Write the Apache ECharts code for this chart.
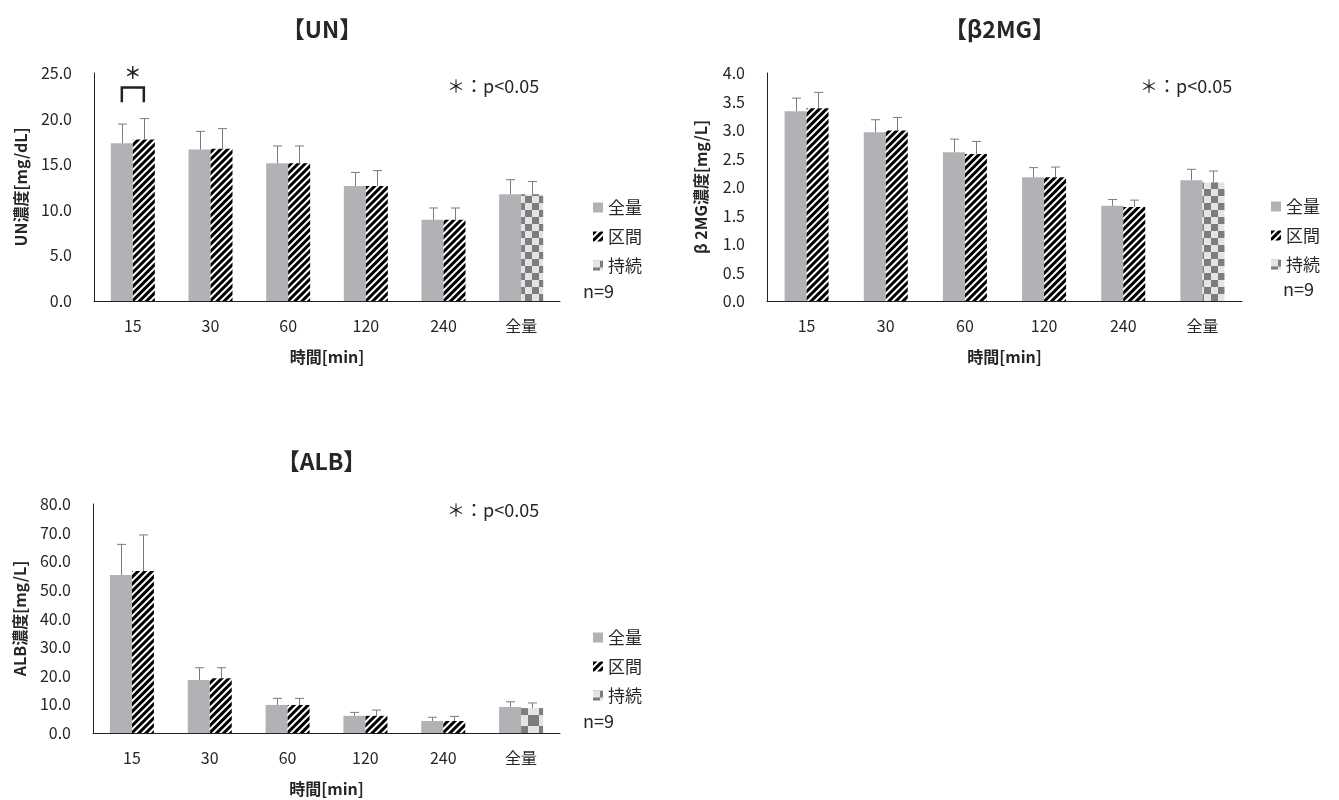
<!DOCTYPE html>
<html>
<head>
<meta charset="utf-8">
<script src="https://cdn.jsdelivr.net/npm/echarts@6/dist/echarts.min.js"></script>
<style>
  html, body { margin: 0; padding: 0; background: #fff; }
  #main { width: 1339px; height: 800px; }
</style>
</head>
<body>
<div id="main"></div>
<script>
// categories
const categories = ['15', '30', '60', '120', '240', '全量'];
const seriesNames = ['全量', '区間', '持続'];

// UN [mg/dL]
const unZenryo = [17.3, 16.6, 15.1, 12.6, 8.9, 11.7];
const unZenryoSD = [2.1, 2.0, 1.9, 1.5, 1.3, 1.6];
const unKukan = [17.7, 16.7, 15.1, 12.6, 8.9, null];
const unKukanSD = [2.3, 2.2, 1.9, 1.7, 1.3, null];
const unJizoku = [null, null, null, null, null, 11.7];
const unJizokuSD = [null, null, null, null, null, 1.4];

// β2MG [mg/L]
const b2Zenryo = [3.33, 2.96, 2.61, 2.17, 1.67, 2.12];
const b2ZenryoSD = [0.23, 0.22, 0.23, 0.17, 0.11, 0.19];
const b2Kukan = [3.38, 2.99, 2.58, 2.17, 1.65, null];
const b2KukanSD = [0.28, 0.23, 0.22, 0.18, 0.12, null];
const b2Jizoku = [null, null, null, null, null, 2.08];
const b2JizokuSD = [null, null, null, null, null, 0.20];

// ALB [mg/L]
const albZenryo = [55.2, 18.5, 9.8, 6.0, 4.2, 9.1];
const albZenryoSD = [10.7, 4.3, 2.3, 1.2, 1.3, 1.8];
const albKukan = [56.6, 19.1, 9.8, 6.0, 4.2, null];
const albKukanSD = [12.6, 3.7, 2.3, 2.0, 1.6, null];
const albJizoku = [null, null, null, null, null, 8.7];
const albJizokuSD = [null, null, null, null, null, 1.8];

// y ticks: min, max, interval
const unTicks = [0, 25, 5];
const b2Ticks = [0, 4, 0.5];
const albTicks = [0, 80, 10];

// significance bracket (UN, 15 min): [category, top, leg bottom, star]
const unSig = [[0, 23.4, 21.8, 25.0]];

const FONT = '"Noto Sans CJK JP", "Noto Sans", sans-serif';
const BAR_W = 22;
const GRAY = '#b1b2b5';
const TXT = '#262626';

const stripeDecal = {
  symbol: 'rect', symbolSize: 1, color: '#000',
  dashArrayX: [1, 0], dashArrayY: [2.5, 1.5], rotation: -Math.PI / 4
};
function checkerDecal(s) {
  return {
    symbol: 'rect', symbolSize: 1, color: '#7d7d7d',
    dashArrayX: [[s, s], [0, s, s, 0]], dashArrayY: [s, 0], rotation: 0
  };
}

const panels = [
  { title: '【UN】', yName: 'UN濃度[mg/dL]', ticks: unTicks,
    zen: unZenryo, zenSD: unZenryoSD, ku: unKukan, kuSD: unKukanSD, ji: unJizoku, jiSD: unJizokuSD,
    grid: { left: 94, top: 73, width: 466, height: 228 }, check: 7 },
  { title: '【β2MG】', yName: 'β 2MG濃度[mg/L]', ticks: b2Ticks,
    zen: b2Zenryo, zenSD: b2ZenryoSD, ku: b2Kukan, kuSD: b2KukanSD, ji: b2Jizoku, jiSD: b2JizokuSD,
    grid: { left: 767, top: 73, width: 475, height: 228 }, check: 7 },
  { title: '【ALB】', yName: 'ALB濃度[mg/L]', ticks: albTicks,
    zen: albZenryo, zenSD: albZenryoSD, ku: albKukan, kuSD: albKukanSD, ji: albJizoku, jiSD: albJizokuSD,
    grid: { left: 93, top: 504, width: 467, height: 229 }, check: 11 }
];

function errData(vals, sds, side) {
  const out = [];
  vals.forEach((v, i) => {
    if (v != null && sds[i] != null) out.push([i, v, sds[i], side]);
  });
  return out;
}

function renderErr(params, api) {
  const mean = api.value(1), err = api.value(2), side = api.value(3);
  const base = api.coord([api.value(0), mean]);
  const top = api.coord([api.value(0), mean + err]);
  const x = Math.round(base[0] + side * BAR_W / 2) + 0.5;
  const st = { stroke: '#7b7b7b', lineWidth: 1 };
  return {
    type: 'group',
    children: [
      { type: 'line', shape: { x1: x, y1: base[1], x2: x, y2: top[1] }, style: st },
      { type: 'line', shape: { x1: x - 4.5, y1: top[1], x2: x + 4.5, y2: top[1] }, style: st }
    ]
  };
}

const grid = [], xAxis = [], yAxis = [], series = [], title = [];
panels.forEach((p, gi) => {
  grid.push(p.grid);
  title.push({
    text: p.title, left: p.grid.left + p.grid.width / 2 - 10, top: gi === 2 ? 445 : 13,
    textAlign: 'center',
    textStyle: { fontFamily: FONT, fontSize: 23, fontWeight: 'bold', color: TXT }
  });
  xAxis.push({
    type: 'category', gridIndex: gi, data: categories,
    name: '時間[min]', nameLocation: 'middle', nameGap: 48,
    nameTextStyle: { fontFamily: FONT, fontSize: 16, fontWeight: 'bold', color: TXT },
    axisLine: { lineStyle: { color: '#222', width: 1 } },
    axisTick: { show: false },
    axisLabel: { fontFamily: FONT, fontSize: 16, color: TXT, margin: 17 }
  });
  yAxis.push({
    type: 'value', gridIndex: gi, min: p.ticks[0], max: p.ticks[1], interval: p.ticks[2],
    name: p.yName, nameLocation: 'middle', nameGap: gi === 1 ? 58 : 65,
    nameTextStyle: { fontFamily: FONT, fontSize: 16, fontWeight: 'bold', color: TXT },
    axisLine: { show: true, lineStyle: { color: '#222', width: 1 } },
    axisTick: { show: false },
    splitLine: { show: false },
    axisLabel: { fontFamily: FONT, fontSize: 16, color: TXT, margin: 22,
      formatter: v => v.toFixed(1) }
  });
  const common = { type: 'bar', xAxisIndex: gi, yAxisIndex: gi, barWidth: BAR_W, barGap: '0%' };
  series.push(Object.assign({}, common, {
    name: '全量', data: p.zen, itemStyle: { color: GRAY }
  }));
  series.push(Object.assign({}, common, {
    name: '区間', stack: 'b' + gi, data: p.ku, itemStyle: { color: '#fff', decal: stripeDecal }
  }));
  series.push(Object.assign({}, common, {
    name: '持続', stack: 'b' + gi, data: p.ji, itemStyle: { color: '#e4e4e4', decal: checkerDecal(p.check) }
  }));
  series.push({
    type: 'custom', xAxisIndex: gi, yAxisIndex: gi, z: 5, silent: true,
    encode: { x: 0, y: 1 },
    data: errData(p.zen, p.zenSD, -1)
      .concat(errData(p.ku, p.kuSD, 1))
      .concat(errData(p.ji, p.jiSD, 1)),
    renderItem: renderErr
  });
});

// significance bracket on UN
series.push({
  type: 'custom', xAxisIndex: 0, yAxisIndex: 0, z: 6, silent: true,
  encode: { x: 0, y: 1 },
  data: unSig,
  renderItem: function (params, api) {
    const c = api.value(0);
    const top = api.coord([c, api.value(1)]);
    const leg = api.coord([c, api.value(2)]);
    const star = api.coord([c, api.value(3)]);
    const x0 = top[0] - BAR_W / 2, x1 = top[0] + BAR_W / 2;
    return {
      type: 'group',
      children: [
        { type: 'polyline', shape: { points: [[x0, leg[1]], [x0, top[1]], [x1, top[1]], [x1, leg[1]]] },
          style: { stroke: '#222', lineWidth: 2.5, fill: null } },
        { type: 'text', x: star[0], y: star[1],
          style: { text: '＊', fontFamily: FONT, fontSize: 17, fontWeight: 'bold', fill: TXT,
            align: 'center', verticalAlign: 'middle' } }
      ]
    };
  }
});

const legendPos = [[588, 194], [1266, 193], [588, 624]];
const legend = legendPos.map(pos => ({
  data: seriesNames, orient: 'vertical', left: pos[0], top: pos[1],
  itemWidth: 10, itemHeight: 10, itemGap: 12, icon: 'rect', selectedMode: false,
  textStyle: { fontFamily: FONT, fontSize: 17, color: TXT }
}));

const noteStyle = { fontFamily: FONT, fontSize: 18, fill: TXT };
const graphic = [
  { type: 'text', left: 447, top: 77, style: Object.assign({ text: '＊：p<0.05' }, noteStyle) },
  { type: 'text', left: 1140, top: 77, style: Object.assign({ text: '＊：p<0.05' }, noteStyle) },
  { type: 'text', left: 447, top: 501, style: Object.assign({ text: '＊：p<0.05' }, noteStyle) },
  { type: 'text', left: 583, top: 282, style: Object.assign({ text: 'n=9' }, noteStyle) },
  { type: 'text', left: 1283, top: 280, style: Object.assign({ text: 'n=9' }, noteStyle) },
  { type: 'text', left: 583, top: 712, style: Object.assign({ text: 'n=9' }, noteStyle) }
];

const MyChart = echarts.init(document.getElementById('main'), null, { renderer: 'canvas' });
MyChart.setOption({
  animation: false,
  backgroundColor: '#fff',
  title, grid, xAxis, yAxis, series, legend, graphic
});
</script>
</body>
</html>
